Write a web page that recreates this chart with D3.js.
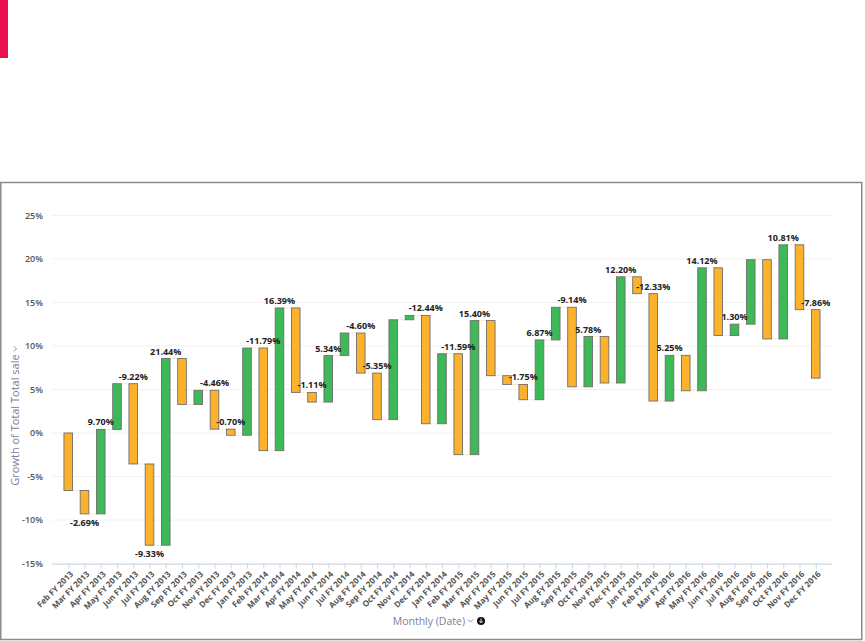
<!DOCTYPE html>
<html>
<head>
<meta charset="utf-8">
<script src="https://cdn.jsdelivr.net/npm/d3@7/dist/d3.min.js"></script>
<style>
  html, body { margin: 0; padding: 0; background: #fff; }
  svg { display: block; }
  text { font-family: "Open Sans", "DejaVu Sans", sans-serif; }
</style>
</head>
<body>
<svg id="chart" width="865" height="641"></svg>
<script>
// ---- data ----
const months = [
  "Feb FY 2013","Mar FY 2013","Apr FY 2013","May FY 2013","Jun FY 2013","Jul FY 2013",
  "Aug FY 2013","Sep FY 2013","Oct FY 2013","Nov FY 2013","Dec FY 2013","Jan FY 2013",
  "Feb FY 2014","Mar FY 2014","Apr FY 2014","May FY 2014","Jun FY 2014","Jul FY 2014",
  "Aug FY 2014","Sep FY 2014","Oct FY 2014","Nov FY 2014","Dec FY 2014","Jan FY 2014",
  "Feb FY 2015","Mar FY 2015","Apr FY 2015","May FY 2015","Jun FY 2015","Jul FY 2015",
  "Aug FY 2015","Sep FY 2015","Oct FY 2015","Nov FY 2015","Dec FY 2015","Jan FY 2015",
  "Feb FY 2016","Mar FY 2016","Apr FY 2016","May FY 2016","Jun FY 2016","Jul FY 2016",
  "Aug FY 2016","Sep FY 2016","Oct FY 2016","Nov FY 2016","Dec FY 2016"
];
const changes = [
  -6.60, -2.69, 9.70, 5.25, -9.22, -9.33,
  21.44, -5.27, 1.62, -4.46, -0.70, 10.02,
  -11.79, 16.39, -9.70, -1.11, 5.34, 2.59,
  -4.60, -5.35, 11.47, 0.50, -12.44, 8.04,
  -11.59, 15.40, -6.33, -1.01, -1.75, 6.87,
  3.75, -9.14, 5.78, -5.34, 12.20, -1.94,
  -12.33, 5.25, -4.07, 14.12, -7.77, 1.30,
  7.40, -9.10, 10.81, -7.45, -7.86
];
// where the value label of each bar goes: "t" above, "b" below, "" none
const labelPlace = [
  "", "b", "t", "", "t", "b",
  "t", "", "", "t", "t", "",
  "t", "t", "", "t", "t", "",
  "t", "t", "", "", "t", "",
  "t", "t", "", "", "t", "t",
  "", "t", "t", "", "t", "",
  "t", "t", "", "t", "", "t",
  "", "", "t", "", "t"
];
const yTicks = [-15, -10, -5, 0, 5, 10, 15, 20, 25];

// ---- build ----
const svg = d3.select("#chart");
const ends = Array.from(d3.cumsum(changes));
const rows = months.map((m, i) => ({
  m, change: changes[i],
  start: i === 0 ? 0 : ends[i - 1],
  end: ends[i],
  place: labelPlace[i]
}));

const plotL = 52, plotR = 832;
const x = d3.scalePoint().domain(months).range([plotL, plotR]).padding(1);
const y = d3.scaleLinear().domain([-15, 25]).range([563.6, 215.3]);
const bw = 8.6;

// accent mark and frame
svg.append("rect").attr("x", 0).attr("y", 0).attr("width", 8).attr("height", 58).attr("fill", "#e8114f");
svg.append("rect").attr("x", 0.75).attr("y", 182.5).attr("width", 861).attr("height", 457)
  .attr("fill", "none").attr("stroke", "#8c8c8c").attr("stroke-width", 1.5);

// gridlines
svg.append("g").selectAll("line").data(yTicks.filter(t => t !== -15)).join("line")
  .attr("x1", plotL).attr("x2", plotR)
  .attr("y1", d => y(d)).attr("y2", d => y(d))
  .attr("stroke", "#f1f1f1").attr("stroke-width", 1);

// y axis labels
const yAxis = d3.axisLeft(y).tickValues(yTicks).tickSize(0).tickPadding(0)
  .tickFormat(d => d + "%");
const gy = svg.append("g").attr("transform", "translate(43,0)").call(yAxis);
gy.select(".domain").remove();
gy.selectAll("text").attr("fill", "#555").attr("font-size", 9).attr("font-weight", 600)
  .style("font-family", "'Open Sans', sans-serif");

// y title
const yt = svg.append("g").attr("transform", "translate(19,416) rotate(-90)");
const ytText = yt.append("text").attr("text-anchor", "middle").attr("x", -4)
  .attr("fill", "#7c8099").attr("font-size", 11)
  .text("Growth of Total Total sale");
const ytl = ytText.node().getComputedTextLength();
yt.append("path").attr("d", `M${-4 + ytl / 2 + 3},-5 l2.5,2.5 l2.5,-2.5`)
  .attr("fill", "none").attr("stroke", "#7c8099").attr("stroke-width", 0.9);

// x axis
const xAxis = d3.axisBottom(x).tickSize(5).tickSizeOuter(0);
const gx = svg.append("g").attr("transform", `translate(0,${y(-15)})`).call(xAxis);
gx.select(".domain").attr("stroke", "#cfd8e6").attr("stroke-width", 1.2)
  .attr("d", `M${plotL},0.5H${plotR}`);
gx.selectAll(".tick line").attr("stroke", "#cfd8e6").attr("stroke-width", 1);
gx.selectAll(".tick text")
  .attr("x", 0).attr("y", 0).attr("dy", "0.35em")
  .attr("transform", "translate(3,9) rotate(-45)")
  .attr("text-anchor", "end")
  .attr("fill", "#555").attr("font-size", 8.2).attr("font-weight", 700)
  .style("font-family", "'Open Sans', sans-serif");

// x title
const xt = svg.append("g");
xt.append("text").attr("x", 465).attr("y", 625).attr("text-anchor", "end")
  .attr("fill", "#7c8099").attr("font-size", 10.5).text("Monthly (Date)");
xt.append("path").attr("d", "M468,619.5 l2.5,2.5 l2.5,-2.5")
  .attr("fill", "none").attr("stroke", "#7c8099").attr("stroke-width", 0.9);
xt.append("circle").attr("cx", 481).attr("cy", 621).attr("r", 4).attr("fill", "#111");
xt.append("path").attr("d", "M481,618.5 v4 M479.3,621 l1.7,1.8 l1.7,-1.8")
  .attr("fill", "none").attr("stroke", "#fff").attr("stroke-width", 0.9);

// connectors
svg.append("g").selectAll("line").data(rows.slice(0, -1)).join("line")
  .attr("x1", (d, i) => x(d.m) + bw / 2)
  .attr("x2", (d, i) => x(months[i + 1]) - bw / 2)
  .attr("y1", d => y(d.end)).attr("y2", d => y(d.end))
  .attr("stroke", "#fcd79c").attr("stroke-width", 1).attr("stroke-dasharray", "1.5,1.5");

// bars
svg.append("g").selectAll("rect").data(rows).join("rect")
  .attr("x", d => x(d.m) - bw / 2)
  .attr("width", bw)
  .attr("y", d => y(Math.max(d.start, d.end)))
  .attr("height", d => Math.abs(y(d.start) - y(d.end)))
  .attr("fill", d => d.change >= 0 ? "#3dba57" : "#fdb22c")
  .attr("stroke", "#6f6f6f").attr("stroke-width", 0.9);

// value labels
svg.append("g").selectAll("text").data(rows.filter(d => d.place)).join("text")
  .attr("x", d => x(d.m))
  .attr("y", d => d.place === "t" ? y(Math.max(d.start, d.end)) - 4 : y(Math.min(d.start, d.end)) + 12)
  .attr("text-anchor", "middle")
  .attr("fill", "#222").attr("font-size", 9).attr("font-weight", 700)
  .style("font-family", "'Open Sans', sans-serif")
  .text(d => d.change.toFixed(2) + "%");
</script>
</body>
</html>
